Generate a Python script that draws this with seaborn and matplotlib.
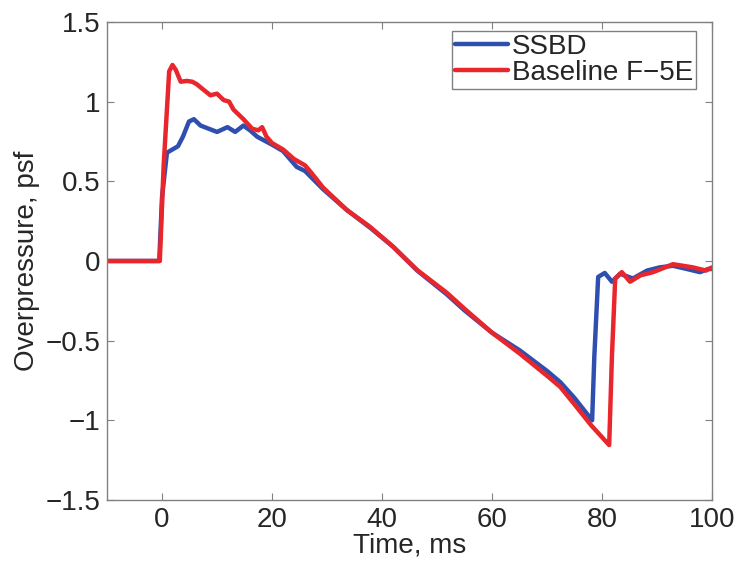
import numpy as np
import pandas as pd
import matplotlib
matplotlib.use('Agg')
import matplotlib.pyplot as plt
import seaborn as sns

# ---- data ----
ssbd_t = [-10, -0.5, 0.0, 0.9, 2.9, 3.8, 4.9, 5.8, 7.0, 8.5, 10.0, 11.9, 13.3, 14.8,
          16.0, 17.3, 20.0, 22.0, 24.5, 26.0, 29.3, 33.6, 37.8, 42.0, 46.4, 51.8,
          55.0, 60.0, 65.0, 70.0, 72.4, 75.0, 78.2, 78.6, 79.3, 80.5, 81.8, 83.3,
          85.6, 88.2, 90.5, 92.9, 95.4, 97.8, 99.3, 100]
ssbd_p = [0, 0, 0.40, 0.68, 0.72, 0.78, 0.875, 0.89, 0.85, 0.83, 0.81, 0.84, 0.81, 0.85,
          0.82, 0.78, 0.73, 0.69, 0.59, 0.565, 0.45, 0.32, 0.21, 0.09, -0.06, -0.21,
          -0.31, -0.45, -0.56, -0.69, -0.76, -0.86, -1.0, -0.6, -0.10, -0.075, -0.13, -0.08,
          -0.11, -0.06, -0.04, -0.03, -0.05, -0.07, -0.05, -0.05]

f5e_t = [-10, -0.4, 0.3, 1.3, 1.9, 2.5, 3.4, 4.5, 5.5, 6.3, 7.0, 8.8, 10.0, 11.2,
         12.2, 13.0, 14.8, 16.4, 17.5, 18.2, 19.0, 20.0, 22.0, 24.0, 26.0, 27.0,
         29.3, 33.6, 37.8, 42.0, 46.4, 51.8, 55.0, 60.0, 65.0, 70.0, 72.4, 75.0,
         78.0, 81.3, 81.8, 82.4, 83.6, 85.1, 87.0, 89.3, 92.9, 94.7, 96.5, 98.9, 100]
f5e_p = [0, 0, 0.60, 1.19, 1.23, 1.20, 1.125, 1.13, 1.125, 1.11, 1.09, 1.04, 1.05, 1.01,
         1.00, 0.95, 0.89, 0.83, 0.82, 0.84, 0.78, 0.74, 0.70, 0.64, 0.60, 0.56,
         0.46, 0.32, 0.215, 0.09, -0.057, -0.20, -0.30, -0.45, -0.58, -0.72, -0.79, -0.90,
         -1.03, -1.155, -0.6, -0.11, -0.07, -0.13, -0.09, -0.07, -0.02, -0.03, -0.04, -0.06, -0.04]

xticks = [0, 20, 40, 60, 80, 100]
yticks = [-1.5, -1, -0.5, 0, 0.5, 1, 1.5]
ytick_labels = ['\u22121.5', '\u22121', '\u22120.5', '0', '0.5', '1', '1.5']

df = pd.concat([
    pd.DataFrame({'t': ssbd_t, 'p': ssbd_p, 'series': 'SSBD'}),
    pd.DataFrame({'t': f5e_t, 'p': f5e_p, 'series': 'Baseline F\u22125E'}),
])

sns.set_style('white')
plt.rcParams['font.family'] = ['Liberation Sans', 'DejaVu Sans']

fig = plt.figure(figsize=(7.38, 5.62), dpi=100)
ax = fig.add_axes([0.145, 0.1103, 0.8198, 0.8506])

sns.lineplot(data=df, x='t', y='p', hue='series', estimator=None, sort=False,
             palette={'SSBD': '#2f4fb0', 'Baseline F\u22125E': '#e8262c'},
             linewidth=3.2, ax=ax)

ax.set_xlim(-10, 100)
ax.set_ylim(-1.5, 1.5)
ax.set_xticks(xticks)
ax.set_yticks(yticks)
ax.set_yticklabels(ytick_labels)
ax.tick_params(direction='in', length=5, width=0.8, color='#808080',
               labelsize=20, labelcolor='#262626', top=True, right=True,
               bottom=True, left=True, pad=5)
for s in ax.spines.values():
    s.set_color('#808080')
    s.set_linewidth(1.0)

ax.set_xlabel('Time, ms', fontsize=20, color='#262626', labelpad=0)
ax.set_ylabel('Overpressure, psf', fontsize=20, color='#262626', labelpad=4)

leg = ax.legend(loc='upper right', bbox_to_anchor=(0.9736, 0.981), borderaxespad=0,
                fontsize=20, handlelength=1.9, handletextpad=0.15, borderpad=0.1,
                labelspacing=0.0, fancybox=False, framealpha=1)
leg.get_frame().set_edgecolor('#808080')
leg.get_frame().set_linewidth(1.0)
for txt in leg.get_texts():
    txt.set_color('#262626')

fig.savefig('out.png', dpi=100)
